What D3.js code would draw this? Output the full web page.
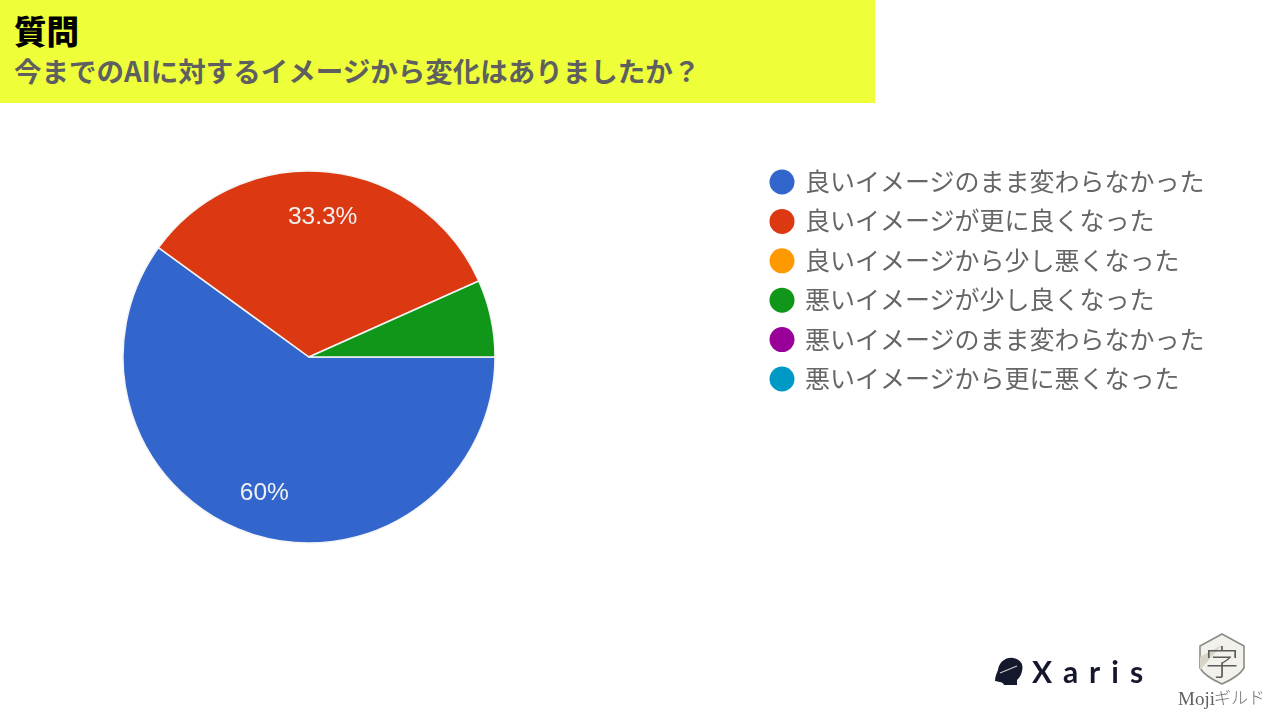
<!DOCTYPE html>
<html>
<head>
<meta charset="utf-8">
<script src="https://cdn.jsdelivr.net/npm/d3@7"></script>
<style>
html, body { margin: 0; padding: 0; background: #fff; overflow: hidden; }
svg { display: block; filter: blur(0.45px); }
text { font-family: "Noto Sans CJK JP", "Noto Sans", sans-serif; }
</style>
</head>
<body>
<svg id="chart" width="1279" height="719"></svg>
<script>
var heading = '質問';
var question = '今までのAIに対するイメージから変化はありましたか？';

var categories = [
  '良いイメージのまま変わらなかった',
  '良いイメージが更に良くなった',
  '良いイメージから少し悪くなった',
  '悪いイメージが少し良くなった',
  '悪いイメージのまま変わらなかった',
  '悪いイメージから更に悪くなった'
];
var values = [60, 33.3, 0, 6.7, 0, 0];
var labels = ['60%', '33.3%', '', '', '', ''];
var colors = ['#3366cc', '#dc3912', '#ff9900', '#109618', '#990099', '#0099c6'];

var svg = d3.select('#chart');

// title band
svg.append('rect')
  .attr('width', 875).attr('height', 103)
  .attr('fill', '#eeff3a');
svg.append('text')
  .attr('x', 14).attr('y', 44)
  .attr('font-size', 32.5).attr('font-weight', 900)
  .attr('fill', '#000')
  .text(heading);
svg.append('text')
  .attr('x', 14).attr('y', 82)
  .attr('font-size', 27.5).attr('font-weight', 700)
  .attr('fill', '#5f5f5f')
  .text(question);

// pie, starts at 3 o'clock and runs clockwise
var pie = d3.pie().sort(null)
  .startAngle(Math.PI / 2)
  .endAngle(Math.PI * 2.5)
  .value(function(d) { return d; });
var radius = 186;
var arc = d3.arc().innerRadius(0).outerRadius(radius);
var labelArc = d3.arc().innerRadius(radius * 0.76).outerRadius(radius * 0.76);

var pieG = svg.append('g').attr('transform', 'translate(309,357)');
var arcs = pie(values);

pieG.selectAll('path')
  .data(arcs)
  .enter().append('path')
  .attr('d', arc)
  .attr('fill', function(d, i) { return colors[i]; })
  .attr('stroke', function(d) { return d.value > 0 ? '#f4f4f4' : 'none'; })
  .attr('stroke-width', 1.5);

pieG.selectAll('text')
  .data(arcs)
  .enter().append('text')
  .attr('transform', function(d) { return 'translate(' + labelArc.centroid(d) + ')'; })
  .attr('text-anchor', 'middle')
  .attr('dy', '0.33em')
  .attr('dx', -1)
  .style('font-family', '"Liberation Sans", Arial, sans-serif')
  .attr('font-size', 24.5)
  .attr('fill', '#f0f0f0')
  .text(function(d, i) { return labels[i]; });

// legend
var legendY = d3.scalePoint()
  .domain(categories)
  .range([182, 379]);

var legend = svg.selectAll('g.legend')
  .data(categories)
  .enter().append('g')
  .attr('class', 'legend')
  .attr('transform', function(d) { return 'translate(0,' + legendY(d) + ')'; });
legend.append('circle')
  .attr('cx', 782).attr('r', 12.5)
  .attr('fill', function(d, i) { return colors[i]; });
legend.append('text')
  .attr('x', 805).attr('dy', '0.36em')
  .attr('font-size', 25)
  .attr('fill', '#666')
  .text(function(d) { return d; });

// Xaris logo
var xaris = svg.append('g');
xaris.append('path')
  .attr('d', 'M995 681 C995 676 997 673 998 670 C999 662 1006 657 1013 658 C1020 659 1024 664 1022 671 C1021 676 1019 678 1017 680 L1017 685 L1004 685 C1003 682 1000 682 995 681 Z')
  .attr('fill', '#15172c');
xaris.append('path')
  .attr('d', 'M1000 673 L1017 666')
  .attr('stroke', '#ccc').attr('stroke-width', 1.2).attr('fill', 'none');
xaris.append('text')
  .attr('x', 1032).attr('y', 683)
  .attr('font-size', 30).attr('font-weight', 700)
  .style('font-family', 'Lato, sans-serif')
  .attr('letter-spacing', 11)
  .attr('fill', '#15172c')
  .text('Xaris');

// Moji guild logo
var moji = svg.append('g');
moji.append('path')
  .attr('d', 'M1222 634 L1244 646 L1244 668 C1240 675 1231 680 1222 684 C1213 680 1204 675 1200 668 L1200 646 Z')
  .attr('fill', '#f3f1ec').attr('stroke', '#8c8c86').attr('stroke-width', 1.6);
moji.append('path')
  .attr('d', 'M1200 657 L1222 645 L1200 670 Z')
  .attr('fill', '#d8d5c8');
moji.append('text')
  .attr('x', 1222).attr('y', 675)
  .attr('text-anchor', 'middle')
  .attr('font-size', 34)
  .attr('font-weight', 300)
  .attr('fill', '#5c5c58')
  .text('字');
moji.append('text')
  .attr('x', 1178).attr('y', 705)
  .style('font-family', '"Liberation Serif", serif')
  .attr('font-size', 19)
  .attr('fill', '#5f5f5f')
  .text('Moji');
moji.append('text')
  .attr('x', 1214).attr('y', 704)
  .attr('font-size', 17)
  .attr('font-weight', 300)
  .attr('fill', '#6f6f6f')
  .text('ギルド');
</script>
</body>
</html>
